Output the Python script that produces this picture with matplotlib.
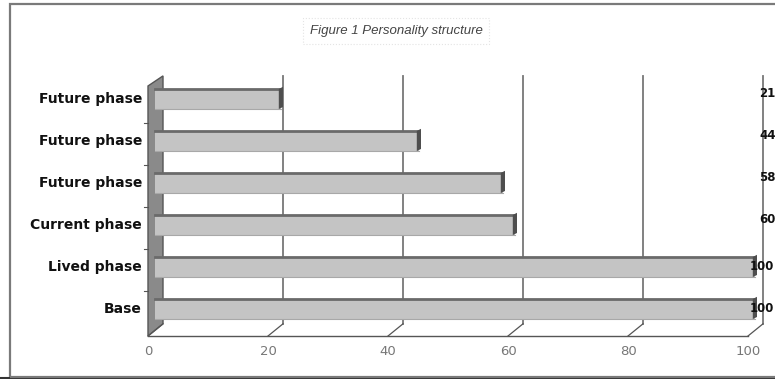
import matplotlib
matplotlib.use("Agg")
import matplotlib.pyplot as plt
from matplotlib.patches import Polygon, Rectangle

# data (bottom to top)
categories = ["Base", "Lived phase", "Current phase", "Future phase", "Future phase", "Future phase"]
values = [100, 100, 60, 58, 44, 21]
xticks = [0, 20, 40, 60, 80, 100]
title = "Figure 1 Personality structure"

# pseudo 3d depth in data units
dx, dy = 2.5, 0.29
bar_h = 0.48
bar_x0 = 1.1

fig = plt.figure(figsize=(7.75, 3.79), dpi=100)
ax = fig.add_axes([0, 0, 1, 1])
ax.set_xlim(-148 / 6, (775 - 148) / 6)
ax.set_ylim(-70 / 42, 309 / 42)
ax.axis("off")

# outer frame
fig.patches.append(Rectangle((10 / 775, 2 / 379), 1.0, 373 / 379, transform=fig.transFigure,
                             fill=False, edgecolor="#7a7a7a", lw=1.6))
ax.plot([0, 1.2], [1 / 379, 1 / 379], transform=fig.transFigure, color="#333333", lw=1.5, clip_on=False)

ybot = -0.643
ytop = 5.55

# left wall
wall = Polygon([(0, ybot), (dx, ybot + dy), (dx, ytop), (0, ytop - 0.24)],
               closed=True, facecolor="#8a8a8a", edgecolor="#555555", lw=1)
ax.add_patch(wall)
for i in range(len(categories) - 1):
    ax.plot([-0.6, 0], [i + 0.42, i + 0.42], color="#555555", lw=0.8)

# gridlines + floor
ax.plot([0, 100], [ybot, ybot], color="#555555", lw=1)
for t in xticks:
    if t > 0:
        ax.plot([t + dx, t + dx], [ybot + dy, ytop], color="#777777", lw=1.3)
    ax.plot([t, t + dx], [ybot, ybot + dy], color="#555555", lw=0.9)
    ax.text(t, ybot - 0.38, str(t), ha="center", va="center", fontsize=9.5,
            color="#777777", family="DejaVu Sans")

# bars
ypos = list(range(len(categories)))
ax.barh(ypos, values, left=bar_x0, height=bar_h, color="#c4c4c4", edgecolor="none", zorder=3)
for y, v in zip(ypos, values):
    xe = bar_x0 + v
    ax.plot([bar_x0, xe], [y + bar_h / 2, y + bar_h / 2], color="#6a6a6a", lw=2, zorder=4)
    ax.plot([bar_x0, xe], [y - bar_h / 2, y - bar_h / 2], color="#a8a8a8", lw=0.8, zorder=4)
    cap = Polygon([(xe - 0.3, y - bar_h / 2), (xe + 0.4, y - bar_h / 2 + 0.05),
                   (xe + 0.4, y + bar_h / 2 + 0.05), (xe - 0.3, y + bar_h / 2)],
                  closed=True, facecolor="#4e4e4e", edgecolor="none", zorder=5)
    ax.add_patch(cap)
    # value labels
    if v >= 100:
        ax.text(100.3, y, str(v), ha="left", va="center", fontsize=8.5,
                fontweight="bold", color="#111111", zorder=6)
    else:
        ax.text(101.9, y + 0.12, str(v), ha="left", va="center", fontsize=8.5,
                fontweight="bold", color="#111111", zorder=6)

# category labels
for y, c in zip(ypos, categories):
    ax.text(-1.0, y, c, ha="right", va="center", fontsize=10, fontweight="bold", color="#111111")

# title
fig.text(396 / 775, 1 - 31 / 379, title, ha="center", va="center", fontsize=9.5,
         style="italic", color="#444444", family="Liberation Sans",
         bbox=dict(boxstyle="square,pad=0.5", fc="none", ec="#e4e4e4", ls=":", lw=0.8))

fig.savefig("out.png", dpi=100)
